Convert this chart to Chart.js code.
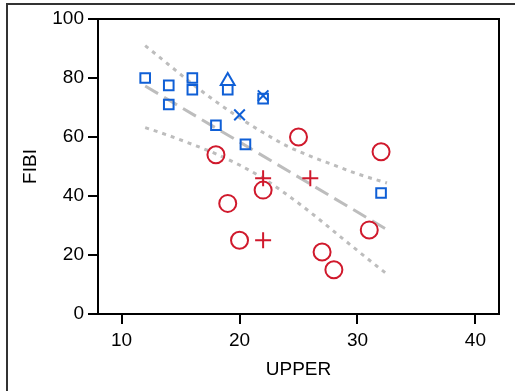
<!DOCTYPE html>
<html>
<head>
<meta charset="utf-8">
<script src="https://cdn.jsdelivr.net/npm/chart.js@4.4.1/dist/chart.umd.min.js"></script>
<style>
  html, body { margin: 0; padding: 0; background: #fff; overflow: hidden; }
  #wrap { position: relative; width: 515px; height: 391px; overflow: hidden; }
  #frame { position: absolute; left: 6px; top: 3px; width: 700px; height: 700px; border: 2px solid #333; box-sizing: border-box; }
  canvas { position: absolute; left: 0; top: 0; }
</style>
</head>
<body>
<div id="wrap">
  <div id="frame"></div>
  <canvas id="c" width="515" height="391"></canvas>
</div>
<script>
// ---- data ----
const squaresX = [12, 14, 14, 16, 16, 19, 22, 18, 20.5, 32];
const squaresY = [80, 77.5, 71, 80, 76, 76, 73, 64, 57.5, 41];
const triangleX = [19];
const triangleY = [79];
const crossX = [20, 22];
const crossY = [67.5, 74];
const circleX = [18, 19, 20, 22, 25, 27, 28, 31, 32];
const circleY = [54, 37.5, 25, 42, 60, 21, 15, 28.5, 55];
const plusX = [22, 26, 22];
const plusY = [46, 46, 25];
const fitX = [12, 32.5];
const fitY = [77.3, 28.6];
const bandX = [12, 14, 16, 18, 20, 22, 24, 26, 28, 30, 32.5];
const upperY = [91, 84.5, 78, 72, 66.5, 61.5, 57, 53.5, 50.5, 47.5, 44.4];
const lowerY = [63.2, 60.5, 57.5, 54.3, 50.5, 46, 40.5, 34.5, 28, 21.5, 13.5];
const xTicks = [10, 20, 30, 40];
const yTicks = [0, 20, 40, 60, 80, 100];
const xTitle = 'UPPER';
const yTitle = 'FIBI';

const BLUE = '#0f5fd6';
const RED = '#d0192c';
const GRAY = '#bdbdbd';
const FONT = "'Liberation Sans', Arial, sans-serif";
const FS = 19;

const pts = (xs, ys) => xs.map((x, i) => ({ x: x, y: ys[i] }));

function markers(xs, ys, style, color, r) {
  return {
    data: pts(xs, ys), showLine: false, pointStyle: style,
    pointRadius: r, pointHoverRadius: r, pointBorderWidth: 2, pointHoverBorderWidth: 2,
    borderColor: color, backgroundColor: 'rgba(0,0,0,0)', pointBackgroundColor: 'rgba(0,0,0,0)'
  };
}
function line(xs, ys, dash) {
  return {
    data: pts(xs, ys), showLine: true, pointRadius: 0, pointHoverRadius: 0,
    borderColor: GRAY, borderWidth: 3, borderDash: dash, fill: false,
    cubicInterpolationMode: 'monotone', borderCapStyle: 'butt'
  };
}

const framePlugin = {
  id: 'framePlugin',
  afterDatasetsDraw(chart) {
    const { ctx, chartArea: a } = chart;
    ctx.save();
    ctx.strokeStyle = '#000';
    ctx.lineWidth = 2;
    ctx.beginPath();
    ctx.moveTo(a.left, a.top);
    ctx.lineTo(a.right, a.top);
    ctx.lineTo(a.right, a.bottom);
    ctx.stroke();
    ctx.restore();
  }
};

new Chart(document.getElementById('c'), {
  type: 'scatter',
  data: {
    datasets: [
      markers(squaresX, squaresY, 'rect', BLUE, 6.8),
      markers(triangleX, triangleY, 'triangle', BLUE, 8),
      markers(crossX, crossY, 'crossRot', BLUE, 7.5),
      markers(circleX, circleY, 'circle', RED, 8.5),
      markers(plusX, plusY, 'cross', RED, 8),
      line(fitX, fitY, [15, 7]),
      line(bandX, upperY, [4, 5]),
      line(bandX, lowerY, [4, 5])
    ]
  },
  options: {
    responsive: false,
    animation: false,
    devicePixelRatio: 1,
    layout: { padding: { left: 0, top: 19, right: 16, bottom: 0 } },
    plugins: { legend: { display: false }, tooltip: { enabled: false } },
    scales: {
      x: {
        type: 'linear', min: 8, max: 42,
        afterBuildTicks: s => { s.ticks = xTicks.map(v => ({ value: v })); },
        afterFit: s => { s.height = 77; },
        grid: { drawOnChartArea: false, drawTicks: true, tickLength: 10, color: '#000', lineWidth: 2 },
        border: { display: true, color: '#000', width: 2 },
        ticks: { color: '#000', font: { family: FONT, size: FS }, padding: 5, maxRotation: 0 },
        title: { display: true, text: xTitle, color: '#000', font: { family: FONT, size: FS }, padding: { top: 0, bottom: 10 } }
      },
      y: {
        type: 'linear', min: 0, max: 100,
        afterBuildTicks: s => { s.ticks = yTicks.map(v => ({ value: v })); },
        afterFit: s => { s.width = 98; },
        grid: { drawOnChartArea: false, drawTicks: true, tickLength: 10, color: '#000', lineWidth: 2 },
        border: { display: true, color: '#000', width: 2 },
        ticks: { color: '#000', font: { family: FONT, size: FS }, padding: 4 },
        title: { display: true, text: yTitle, color: '#000', font: { family: FONT, size: FS }, padding: { top: 19, bottom: 0 } }
      }
    }
  },
  plugins: [framePlugin]
});
</script>
</body>
</html>
